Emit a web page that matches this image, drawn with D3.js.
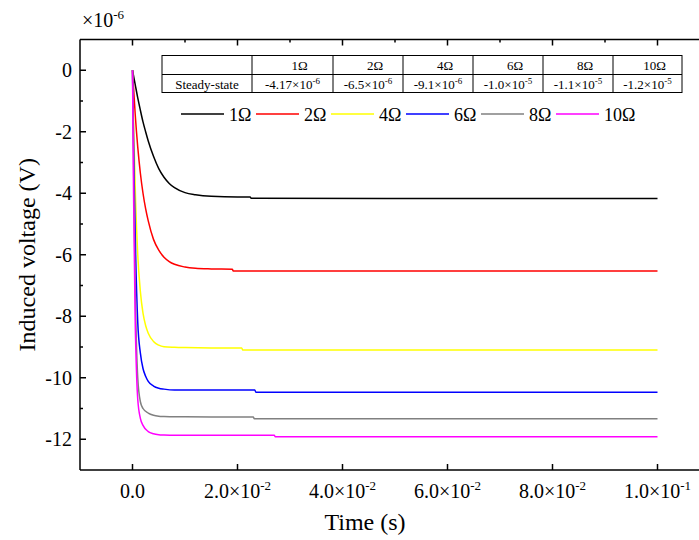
<!DOCTYPE html>
<html>
<head>
<meta charset="utf-8">
<script src="https://cdn.jsdelivr.net/npm/d3@7"></script>
<style>
  html, body { margin: 0; padding: 0; background: #fff; }
  svg { display: block; }
  svg text { font-family: "Liberation Serif", "DejaVu Serif", serif; }
</style>
</head>
<body>
<svg id="chart" width="699" height="540" font-family="Liberation Serif, DejaVu Serif, serif"></svg>
<script>
// ---------------- DATA ----------------
const seriesNames = ["1Ω", "2Ω", "4Ω", "6Ω", "8Ω", "10Ω"];
const seriesColors = ["#000000", "#ff0000", "#ffff00", "#0000ff", "#808080", "#ff00ff"];

// time (s) and induced voltage (×10^-6 V)
const t1 = [0, 0.0005, 0.001, 0.0015, 0.002, 0.0025, 0.003, 0.004, 0.005, 0.006, 0.007, 0.008, 0.010, 0.012, 0.015, 0.020, 0.0224, 0.0226, 0.05, 0.1];
const v1 = [0, -0.45, -0.9, -1.3, -1.68, -2.0, -2.3, -2.8, -3.2, -3.48, -3.68, -3.82, -3.98, -4.05, -4.10, -4.12, -4.12, -4.16, -4.17, -4.17];

const t2 = [0, 0.0005, 0.001, 0.0015, 0.002, 0.0025, 0.003, 0.004, 0.005, 0.006, 0.007, 0.008, 0.010, 0.012, 0.015, 0.0190, 0.0192, 0.05, 0.1];
const v2 = [0, -1.4, -2.5, -3.35, -4.0, -4.5, -4.9, -5.5, -5.85, -6.08, -6.22, -6.31, -6.40, -6.44, -6.46, -6.47, -6.53, -6.53, -6.53];

const t4 = [0, 0.0003, 0.0006, 0.001, 0.0015, 0.002, 0.0025, 0.003, 0.004, 0.005, 0.006, 0.008, 0.010, 0.015, 0.0208, 0.0210, 0.05, 0.1];
const v4 = [0, -2.4, -4.3, -6.0, -7.2, -7.9, -8.3, -8.55, -8.82, -8.94, -8.99, -9.01, -9.02, -9.03, -9.03, -9.10, -9.10, -9.10];

const t6 = [0, 0.0003, 0.0006, 0.001, 0.0015, 0.002, 0.0025, 0.003, 0.004, 0.005, 0.006, 0.008, 0.010, 0.015, 0.0233, 0.0235, 0.05, 0.1];
const v6 = [0, -3.4, -6.0, -8.2, -9.2, -9.7, -9.95, -10.12, -10.27, -10.34, -10.37, -10.40, -10.40, -10.40, -10.40, -10.47, -10.47, -10.47];

const t8 = [0, 0.0003, 0.0006, 0.001, 0.0015, 0.002, 0.003, 0.004, 0.005, 0.006, 0.008, 0.010, 0.020, 0.0230, 0.0232, 0.05, 0.1];
const v8 = [0, -4.5, -7.8, -10.0, -10.78, -11.0, -11.15, -11.22, -11.25, -11.26, -11.27, -11.27, -11.28, -11.28, -11.33, -11.33, -11.33];

const t10 = [0, 0.0002, 0.0005, 0.0008, 0.001, 0.0015, 0.002, 0.003, 0.004, 0.005, 0.006, 0.008, 0.010, 0.0270, 0.0272, 0.05, 0.1];
const v10 = [0, -4.0, -8.0, -10.0, -10.7, -11.32, -11.55, -11.75, -11.82, -11.85, -11.86, -11.87, -11.87, -11.87, -11.92, -11.92, -11.92];

const seriesTimes = [t1, t2, t4, t6, t8, t10];
const seriesValues = [v1, v2, v4, v6, v8, v10];

const xTickValues = [0, 0.02, 0.04, 0.06, 0.08, 0.1];
const xTickMantissa = ["0.0", "2.0", "4.0", "6.0", "8.0", "1.0"];
const xTickExponent = [null, "-2", "-2", "-2", "-2", "-1"];
const xTopMinor = [0.01, 0.03, 0.05, 0.07, 0.09];
const yTickValues = [0, -2, -4, -6, -8, -10, -12];
const yMinorValues = [-1, -3, -5, -7, -9, -11];

const tableHeader = ["", "1Ω", "2Ω", "4Ω", "6Ω", "8Ω", "10Ω"];
const tableRowLabel = "Steady-state";
const tableMantissa = ["-4.17", "-6.5", "-9.1", "-1.0", "-1.1", "-1.2"];
const tableExponent = ["-6", "-6", "-6", "-5", "-5", "-5"];

// ---------------- DRAW ----------------
(function () {
const FONT = "'Liberation Serif', 'DejaVu Serif', serif";
const svg = d3.select("#chart");
const pLeft = 80, pTop = 39.5, pBottom = 470, pRight = 710;

const x = d3.scaleLinear().domain([-0.01, 0.11]).range([pLeft, pRight]);
const y = d3.scaleLinear().domain([-13, 1]).range([pBottom, pTop]);

const line = d3.line()
  .x(d => x(d[0]))
  .y(d => y(d[1]))
  .curve(d3.curveMonotoneX);

const plot = svg.append("g");
seriesTimes.forEach((ts, i) => {
  const pts = ts.map((t, k) => [t, seriesValues[i][k]]);
  plot.append("path")
    .datum(pts)
    .attr("d", line)
    .attr("fill", "none")
    .attr("stroke", seriesColors[i])
    .attr("stroke-width", 1.5);
});

const axisG = svg.append("g").attr("stroke", "#000").attr("stroke-width", 1.5);
axisG.append("line").attr("x1", pLeft).attr("x2", 699).attr("y1", pBottom).attr("y2", pBottom);
axisG.append("line").attr("x1", pLeft).attr("x2", 699).attr("y1", pTop).attr("y2", pTop);
axisG.append("line").attr("x1", pLeft).attr("x2", pLeft).attr("y1", pTop).attr("y2", pBottom);

xTickValues.forEach(v => {
  axisG.append("line").attr("x1", x(v)).attr("x2", x(v)).attr("y1", pBottom).attr("y2", pBottom - 6);
  axisG.append("line").attr("x1", x(v)).attr("x2", x(v)).attr("y1", pTop).attr("y2", pTop + 6);
});
xTopMinor.forEach(v => {
  axisG.append("line").attr("x1", x(v)).attr("x2", x(v)).attr("y1", pTop).attr("y2", pTop + 3);
});
yTickValues.forEach(v => {
  axisG.append("line").attr("x1", pLeft).attr("x2", pLeft + 6).attr("y1", y(v)).attr("y2", y(v));
});
yMinorValues.forEach(v => {
  axisG.append("line").attr("x1", pLeft).attr("x2", pLeft + 3).attr("y1", y(v)).attr("y2", y(v));
});

const fs = 20;
xTickValues.forEach((v, i) => {
  const t = svg.append("text")
    .attr("x", x(v)).attr("y", 498)
    .attr("text-anchor", "middle")
    .attr("font-family", FONT)
    .attr("font-size", fs);
  if (xTickExponent[i] === null) {
    t.text(xTickMantissa[i]);
  } else {
    t.append("tspan").text(xTickMantissa[i] + "×10");
    t.append("tspan").attr("dy", -8).attr("font-size", 13).text(xTickExponent[i]);
  }
});

yTickValues.forEach(v => {
  svg.append("text")
    .attr("x", 72).attr("y", y(v) + 7)
    .attr("text-anchor", "end")
    .attr("font-family", FONT)
    .attr("font-size", fs)
    .text(v === 0 ? "0" : "-" + Math.abs(v));
});

const mult = svg.append("text").attr("x", 82).attr("y", 27).attr("font-family", FONT).attr("font-size", fs);
mult.append("tspan").text("×10");
mult.append("tspan").attr("dy", -8).attr("font-size", 13).text("-6");

svg.append("text")
  .attr("x", 365).attr("y", 530)
  .attr("text-anchor", "middle")
  .attr("font-family", FONT)
  .attr("font-size", 24)
  .text("Time (s)");
svg.append("text")
  .attr("transform", "translate(35," + ((pTop + pBottom) / 2) + ") rotate(-90)")
  .attr("text-anchor", "middle")
  .attr("font-family", FONT)
  .attr("font-size", 24)
  .text("Induced voltage (V)");

const colEdges = [162, 252, 333, 403, 473, 543, 613, 682];
const rowEdges = [55.5, 74.5, 92.5];
const tbl = svg.append("g");
tbl.append("rect")
  .attr("x", colEdges[0]).attr("y", rowEdges[0])
  .attr("width", colEdges[colEdges.length - 1] - colEdges[0])
  .attr("height", rowEdges[2] - rowEdges[0])
  .attr("fill", "#fff").attr("stroke", "#000").attr("stroke-width", 1);
tbl.append("line").attr("x1", colEdges[0]).attr("x2", colEdges[colEdges.length - 1])
  .attr("y1", rowEdges[1]).attr("y2", rowEdges[1]).attr("stroke", "#000").attr("stroke-width", 1);
colEdges.slice(1, -1).forEach(cx => {
  tbl.append("line").attr("x1", cx).attr("x2", cx).attr("y1", rowEdges[0]).attr("y2", rowEdges[2])
    .attr("stroke", "#000").attr("stroke-width", 1);
});
tableHeader.forEach((h, i) => {
  if (!h) return;
  tbl.append("text")
    .attr("x", (colEdges[i] + colEdges[i + 1]) / 2 + 7).attr("y", 70)
    .attr("text-anchor", "middle").attr("font-family", FONT).attr("font-size", 13).text(h);
});
tbl.append("text")
  .attr("x", (colEdges[0] + colEdges[1]) / 2).attr("y", 88.5)
  .attr("text-anchor", "middle").attr("font-family", FONT).attr("font-size", 13).text(tableRowLabel);
tableMantissa.forEach((m, i) => {
  const t = tbl.append("text")
    .attr("x", (colEdges[i + 1] + colEdges[i + 2]) / 2).attr("y", 88.5)
    .attr("text-anchor", "middle").attr("font-family", FONT).attr("font-size", 13);
  t.append("tspan").text(m + "×10");
  t.append("tspan").attr("dy", -5).attr("font-size", 9).text(tableExponent[i]);
});

const leg = svg.append("g");
seriesNames.forEach((n, i) => {
  const lx = 181 + 75 * i;
  leg.append("line").attr("x1", lx).attr("x2", lx + 43).attr("y1", 114).attr("y2", 114)
    .attr("stroke", seriesColors[i]).attr("stroke-width", 1.5);
  leg.append("text").attr("x", lx + 48).attr("y", 120.5)
    .attr("font-family", FONT)
    .attr("font-size", 18).text(n);
});
})();
</script>
</body>
</html>
